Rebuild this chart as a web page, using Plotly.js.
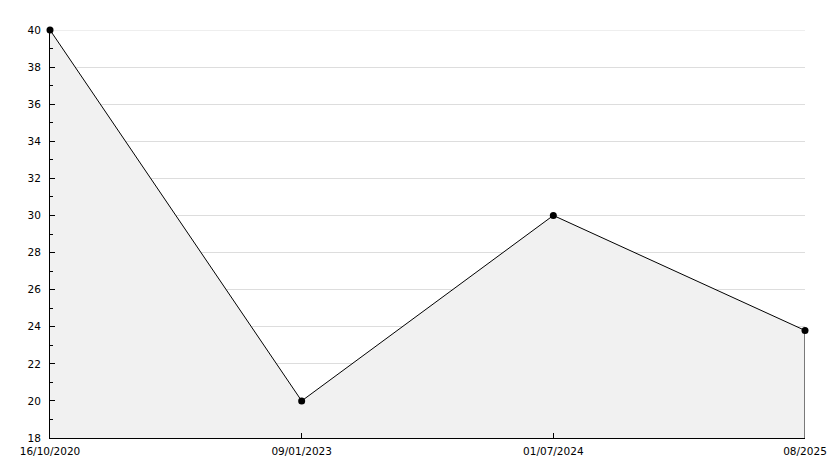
<!DOCTYPE html>
<html>
<head>
<meta charset="utf-8">
<script src="https://cdn.plot.ly/plotly-3.0.1.min.js"></script>
<style>html,body{margin:0;padding:0;background:#fff;}#chart{width:834px;height:468px;}</style>
</head>
<body>
<div id="chart"></div>
<script>
var categories = ["16/10/2020", "09/01/2023", "01/07/2024", "08/2025"];
var values = [40, 20, 30, 23.8];
var yMin = 18;
var yMax = 40;
var yTicks = [18, 20, 22, 24, 26, 28, 30, 32, 34, 36, 38, 40];

var last = categories.length - 1;
var traces = [
  {
    x: categories, y: values, type: "scatter", mode: "lines+markers",
    fill: "tozeroy", fillcolor: "#f1f1f1",
    line: {color: "#000", width: 1},
    marker: {color: "#000", size: 7, symbol: "circle"},
    cliponaxis: false, hoverinfo: "skip"
  },
  {
    x: [categories[last], categories[last]], y: [values[last], yMin],
    type: "scatter", mode: "lines", line: {color: "#000", width: 1},
    hoverinfo: "skip", cliponaxis: false
  }
];

var layout = {
  width: 834, height: 468,
  margin: {l: 50, r: 29, t: 30, b: 30, pad: 0},
  paper_bgcolor: "#fff", plot_bgcolor: "#fff",
  showlegend: false,
  font: {family: "DejaVu Sans", size: 10.5, color: "#000"},
  shapes: [{
    type: "line", xref: "paper", yref: "y", x0: 0, x1: 1, y0: yMax, y1: yMax,
    line: {color: "#dddddd", width: 1}, layer: "below"
  }],
  xaxis: {
    type: "category", range: [0, last], showgrid: false, zeroline: false,
    showline: true, linecolor: "#000", linewidth: 1,
    ticks: "inside", ticklen: 5, tickcolor: "#000", tickwidth: 1,
    tickfont: {family: "DejaVu Sans", size: 10.5, color: "#000"},
    ticklabelstandoff: 3,
    fixedrange: true
  },
  yaxis: {
    range: [yMin, yMax], tickvals: yTicks, showgrid: true, gridcolor: "#dddddd", gridwidth: 1,
    zeroline: false, showline: true, linecolor: "#000", linewidth: 1,
    ticks: "inside", ticklen: 5, tickcolor: "#000", tickwidth: 1,
    tickfont: {family: "DejaVu Sans", size: 10.5, color: "#000"},
    ticklabelstandoff: 6,
    minor: {dtick: 1, ticks: "inside", ticklen: 3, tickcolor: "#000", showgrid: false},
    fixedrange: true
  }
};

Plotly.newPlot("chart", traces, layout, {staticPlot: true, displayModeBar: false});
</script>
</body>
</html>
